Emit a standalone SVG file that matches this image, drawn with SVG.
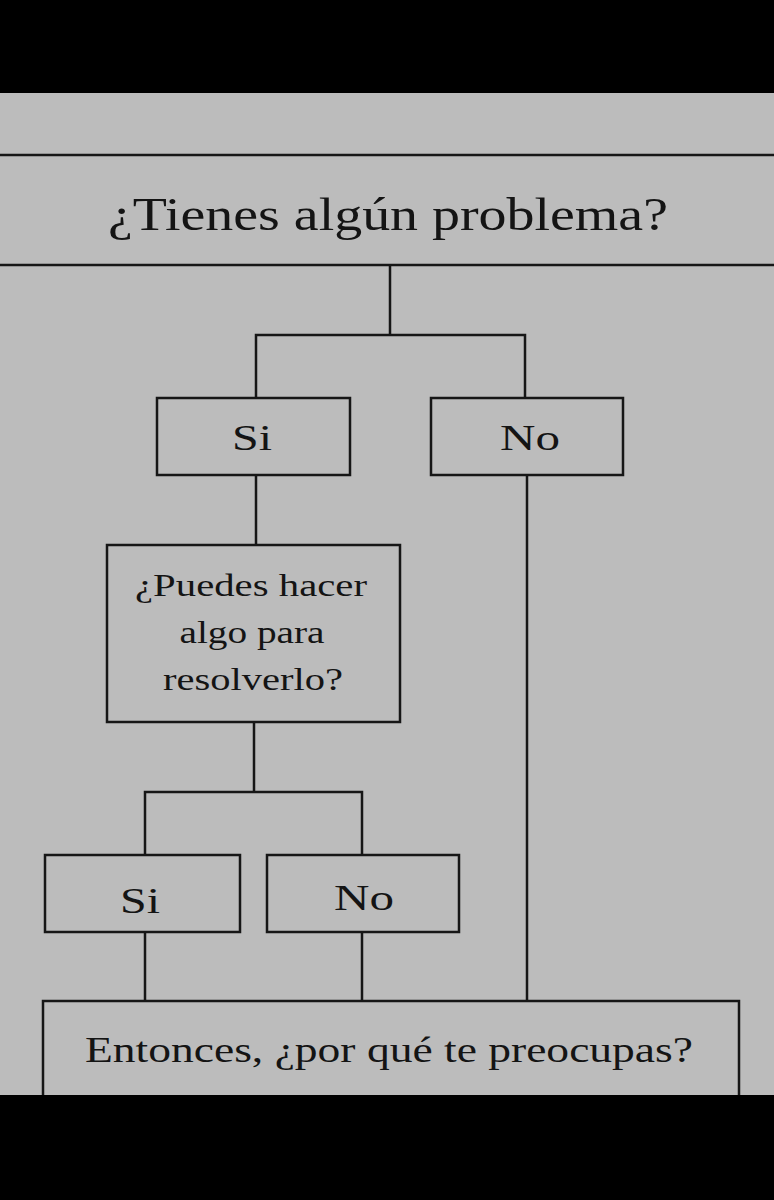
<svg xmlns="http://www.w3.org/2000/svg" width="774" height="1200" viewBox="0 0 774 1200">
<style>
.b{fill:none;stroke:#161616;stroke-width:2.5}
text{font-family:"Liberation Serif","DejaVu Serif",serif;fill:#141414;text-anchor:middle}
</style>
<rect width="774" height="1200" fill="#000"/>
<rect y="93" width="774" height="1002" fill="#bcbcbc"/>
<g id="top"><line class="b" x1="0" y1="155" x2="774" y2="155"/><line class="b" x1="0" y1="265" x2="774" y2="265"/>
<text x="388" y="230" font-size="46" textLength="560" lengthAdjust="spacingAndGlyphs">¿Tienes algún problema?</text></g>
<g id="connectors" class="b">
<path d="M390 265V335M256 398V335H525V398M256 475V545M254 722V792M145 855V792H362V855M145 932V1001M362 932V1001M527 475V1001"/>
</g>
<g id="si1"><rect class="b" x="157" y="398" width="193" height="77"/><text x="252" y="450" font-size="36" textLength="40" lengthAdjust="spacingAndGlyphs">Si</text></g>
<g id="no1"><rect class="b" x="431" y="398" width="192" height="77"/><text x="530" y="450" font-size="36" textLength="60" lengthAdjust="spacingAndGlyphs">No</text></g>
<g id="q2"><rect class="b" x="107" y="545" width="293" height="177"/>
<text x="251" y="596" font-size="32" textLength="232" lengthAdjust="spacingAndGlyphs">¿Puedes hacer</text><text x="252" y="643" font-size="32" textLength="145" lengthAdjust="spacingAndGlyphs">algo para</text><text x="253" y="690" font-size="32" textLength="180" lengthAdjust="spacingAndGlyphs">resolverlo?</text></g>
<g id="si2"><rect class="b" x="45" y="855" width="195" height="77"/><text x="140" y="913" font-size="36" textLength="40" lengthAdjust="spacingAndGlyphs">Si</text></g>
<g id="no2"><rect class="b" x="267" y="855" width="192" height="77"/><text x="364" y="910" font-size="36" textLength="60" lengthAdjust="spacingAndGlyphs">No</text></g>
<g id="end"><rect class="b" x="43" y="1001" width="696" height="110"/><text x="389" y="1062" font-size="35" textLength="608" lengthAdjust="spacingAndGlyphs">Entonces, ¿por qué te preocupas?</text></g>
<rect y="1095" width="774" height="105" fill="#000"/>
</svg>
